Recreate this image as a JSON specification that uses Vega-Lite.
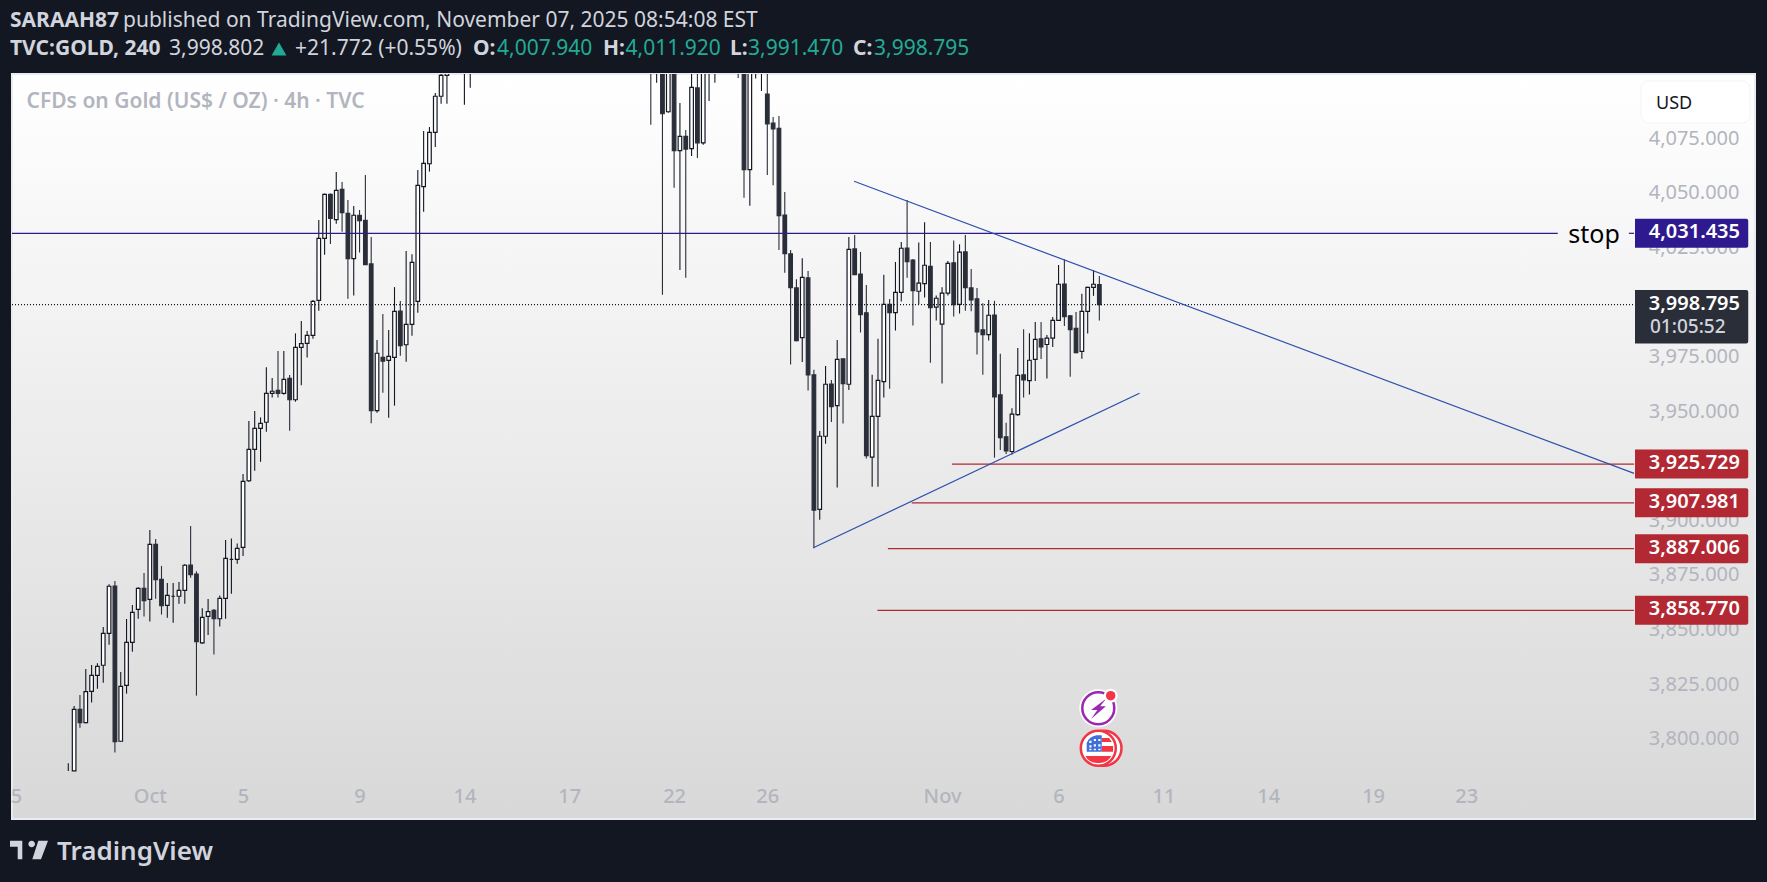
{
  "$schema": "https://vega.github.io/schema/vega-lite/v6.json",
  "width": 1743,
  "height": 745,
  "autosize": {"type": "none"},
  "padding": {"left": 12, "top": 74, "right": 12, "bottom": 63},
  "background": "#131722",
  "view": {
    "stroke": "#e9ebf2",
    "strokeWidth": 2,
    "fill": {
      "x1": 0, "y1": 0, "x2": 0, "y2": 1,
      "gradient": "linear",
      "stops": [{"offset": 0, "color": "#ffffff"}, {"offset": 1, "color": "#d8d8d8"}]
    }
  },
  "config": {
    "axis": {"title": null, "grid": false, "domain": false, "ticks": false},
    "text": {"font": "Noto Sans"}
  },
  "datasets": {
    "one": [{}],
    "bars": [
      {"bar":0,"open":null,"high":3788.7,"low":3785.2,"close":null},
      {"bar":1,"open":3785.2,"high":3814.9,"low":3785.2,"close":3813.4},
      {"bar":2,"open":3813.4,"high":3820.0,"low":3805.0,"close":3807.3},
      {"bar":3,"open":3807.3,"high":3831.9,"low":3807.0,"close":3821.5},
      {"bar":4,"open":3821.6,"high":3833.7,"low":3816.5,"close":3829.0},
      {"bar":5,"open":3829.0,"high":3834.5,"low":3822.9,"close":3833.1},
      {"bar":6,"open":3833.6,"high":3851.1,"low":3825.6,"close":3848.2},
      {"bar":7,"open":3848.2,"high":3870.7,"low":3843.0,"close":3869.8},
      {"bar":8,"open":3869.9,"high":3872.2,"low":3793.6,"close":3798.6},
      {"bar":9,"open":3798.8,"high":3830.5,"low":3798.6,"close":3823.9},
      {"bar":10,"open":3824.4,"high":3854.8,"low":3820.6,"close":3844.1},
      {"bar":11,"open":3844.1,"high":3861.2,"low":3839.8,"close":3857.8},
      {"bar":12,"open":3859.2,"high":3869.3,"low":3854.9,"close":3868.8},
      {"bar":13,"open":3868.8,"high":3875.9,"low":3855.9,"close":3863.2},
      {"bar":14,"open":3863.8,"high":3895.6,"low":3853.6,"close":3889.0},
      {"bar":15,"open":3889.0,"high":3891.4,"low":3864.1,"close":3872.8},
      {"bar":16,"open":3872.9,"high":3879.1,"low":3856.8,"close":3860.9},
      {"bar":17,"open":3861.0,"high":3871.3,"low":3855.4,"close":3865.6},
      {"bar":18,"open":3865.2,"high":3871.3,"low":3853.1,"close":3865.2},
      {"bar":19,"open":3865.2,"high":3871.7,"low":3861.8,"close":3867.9},
      {"bar":20,"open":3867.9,"high":3880.0,"low":3861.8,"close":3879.4},
      {"bar":21,"open":3879.5,"high":3897.4,"low":3873.7,"close":3875.1},
      {"bar":22,"open":3875.4,"high":3876.6,"low":3819.7,"close":3844.4},
      {"bar":23,"open":3843.9,"high":3859.7,"low":3843.5,"close":3855.5},
      {"bar":24,"open":3856.0,"high":3863.9,"low":3847.5,"close":3858.2},
      {"bar":25,"open":3858.8,"high":3859.4,"low":3838.5,"close":3854.9},
      {"bar":26,"open":3854.9,"high":3865.6,"low":3851.3,"close":3864.2},
      {"bar":27,"open":3864.2,"high":3891.0,"low":3854.9,"close":3882.6},
      {"bar":28,"open":3882.1,"high":3891.7,"low":3866.4,"close":3882.1},
      {"bar":29,"open":3882.1,"high":3889.4,"low":3880.1,"close":3887.1},
      {"bar":30,"open":3887.6,"high":3921.2,"low":3883.6,"close":3917.8},
      {"bar":31,"open":3918.1,"high":3945.5,"low":3917.5,"close":3932.5},
      {"bar":32,"open":3932.5,"high":3950.0,"low":3922.7,"close":3942.1},
      {"bar":33,"open":3942.1,"high":3947.1,"low":3926.8,"close":3944.4},
      {"bar":34,"open":3944.9,"high":3970.1,"low":3940.6,"close":3958.1},
      {"bar":35,"open":3958.1,"high":3965.2,"low":3956.2,"close":3959.1},
      {"bar":36,"open":3959.5,"high":3977.5,"low":3956.2,"close":3958.1},
      {"bar":37,"open":3958.1,"high":3977.5,"low":3957.5,"close":3964.5},
      {"bar":38,"open":3965.0,"high":3966.5,"low":3941.0,"close":3955.2},
      {"bar":39,"open":3955.2,"high":3985.6,"low":3954.3,"close":3979.2},
      {"bar":40,"open":3979.2,"high":3991.3,"low":3961.9,"close":3980.9},
      {"bar":41,"open":3981.0,"high":3986.7,"low":3974.5,"close":3984.7},
      {"bar":42,"open":3984.7,"high":4000.9,"low":3983.2,"close":4000.3},
      {"bar":43,"open":4000.7,"high":4037.5,"low":3996.0,"close":4029.1},
      {"bar":44,"open":4029.1,"high":4049.7,"low":4021.6,"close":4049.3},
      {"bar":45,"open":4049.3,"high":4049.7,"low":4026.5,"close":4038.3},
      {"bar":46,"open":4037.7,"high":4059.5,"low":4035.8,"close":4051.1},
      {"bar":47,"open":4051.6,"high":4054.9,"low":4032.2,"close":4040.9},
      {"bar":48,"open":4040.6,"high":4046.7,"low":4001.5,"close":4019.8},
      {"bar":49,"open":4019.8,"high":4043.9,"low":4002.9,"close":4039.7},
      {"bar":50,"open":4039.7,"high":4042.1,"low":4022.6,"close":4037.2},
      {"bar":51,"open":4037.4,"high":4058.1,"low":4017.0,"close":4017.1},
      {"bar":52,"open":4017.4,"high":4029.7,"low":3944.4,"close":3950.2},
      {"bar":53,"open":3950.2,"high":3982.6,"low":3949.3,"close":3976.5},
      {"bar":54,"open":3974.6,"high":3994.5,"low":3958.4,"close":3972.9},
      {"bar":55,"open":3973.2,"high":3987.1,"low":3947.0,"close":3975.1},
      {"bar":56,"open":3974.6,"high":4006.8,"low":3952.5,"close":3995.7},
      {"bar":57,"open":3995.8,"high":4000.4,"low":3975.4,"close":3980.0},
      {"bar":58,"open":3980.4,"high":4023.3,"low":3972.6,"close":3989.7},
      {"bar":59,"open":3989.7,"high":4021.8,"low":3984.5,"close":4018.1},
      {"bar":60,"open":4000.3,"high":4060.4,"low":3995.1,"close":4053.4},
      {"bar":61,"open":4052.8,"high":4078.3,"low":4041.3,"close":4063.5},
      {"bar":62,"open":4063.3,"high":4080.1,"low":4059.7,"close":4077.7},
      {"bar":63,"open":4077.7,"high":4095.7,"low":4071.0,"close":4094.2},
      {"bar":64,"open":4094.2,"high":4106.0,"low":4090.8,"close":4103.8},
      {"bar":65,"open":4103.8,"high":4118.0,"low":4090.8,"close":4112.0},
      {"bar":68,"open":4115.0,"high":4130.0,"low":4090.3,"close":4125.0},
      {"bar":69,"open":4112.0,"high":4125.0,"low":4098.1,"close":4118.0},
      {"bar":100,"open":4125.0,"high":4130.0,"low":4081.2,"close":4112.0},
      {"bar":101,"open":4112.0,"high":4130.0,"low":4100.4,"close":4125.0},
      {"bar":102,"open":4128.0,"high":4135.0,"low":4003.3,"close":4086.2},
      {"bar":103,"open":4087.1,"high":4135.0,"low":4086.7,"close":4130.0},
      {"bar":104,"open":4125.0,"high":4130.0,"low":4052.3,"close":4069.3},
      {"bar":105,"open":4069.3,"high":4091.1,"low":4014.6,"close":4075.8},
      {"bar":106,"open":4075.8,"high":4078.7,"low":4011.1,"close":4070.0},
      {"bar":107,"open":4070.2,"high":4108.0,"low":4066.8,"close":4098.3},
      {"bar":108,"open":4098.0,"high":4106.0,"low":4065.9,"close":4072.9},
      {"bar":109,"open":4072.9,"high":4112.0,"low":4072.0,"close":4108.0},
      {"bar":110,"open":4108.0,"high":4120.0,"low":4092.0,"close":4115.0},
      {"bar":111,"open":4112.0,"high":4122.0,"low":4100.4,"close":4118.0},
      {"bar":115,"open":4118.0,"high":4122.0,"low":4102.6,"close":4110.0},
      {"bar":116,"open":4115.0,"high":4125.0,"low":4047.7,"close":4060.6},
      {"bar":117,"open":4060.6,"high":4120.0,"low":4044.1,"close":4112.0},
      {"bar":118,"open":4108.0,"high":4122.0,"low":4102.3,"close":4118.0},
      {"bar":119,"open":4110.0,"high":4120.0,"low":4096.6,"close":4116.0},
      {"bar":120,"open":4095.2,"high":4108.0,"low":4058.1,"close":4081.6},
      {"bar":121,"open":4081.9,"high":4084.7,"low":4053.5,"close":4079.2},
      {"bar":122,"open":4079.5,"high":4085.2,"low":4023.8,"close":4039.5},
      {"bar":123,"open":4039.8,"high":4050.3,"low":4013.4,"close":4022.1},
      {"bar":124,"open":4022.0,"high":4023.8,"low":3971.3,"close":4006.6},
      {"bar":125,"open":4006.4,"high":4010.4,"low":3982.0,"close":3982.3},
      {"bar":126,"open":3983.7,"high":4020.0,"low":3972.5,"close":4011.3},
      {"bar":127,"open":4011.0,"high":4014.2,"low":3959.4,"close":3966.6},
      {"bar":128,"open":3966.6,"high":3968.9,"low":3887.2,"close":3904.7},
      {"bar":129,"open":3905.0,"high":3940.9,"low":3900.2,"close":3938.5},
      {"bar":130,"open":3938.5,"high":3970.7,"low":3935.0,"close":3962.3},
      {"bar":131,"open":3962.4,"high":3964.3,"low":3945.0,"close":3952.1},
      {"bar":132,"open":3952.5,"high":3982.6,"low":3915.0,"close":3973.7},
      {"bar":133,"open":3973.9,"high":3974.0,"low":3944.3,"close":3962.6},
      {"bar":134,"open":3962.3,"high":4029.8,"low":3959.7,"close":4024.1},
      {"bar":135,"open":4024.3,"high":4030.7,"low":4012.5,"close":4012.5},
      {"bar":136,"open":4012.8,"high":4022.9,"low":3986.0,"close":3994.2},
      {"bar":137,"open":3995.0,"high":4007.8,"low":3928.3,"close":3929.6},
      {"bar":138,"open":3928.9,"high":3966.6,"low":3915.4,"close":3947.6},
      {"bar":139,"open":3947.6,"high":3983.1,"low":3915.4,"close":3964.1},
      {"bar":140,"open":3963.5,"high":4012.4,"low":3956.2,"close":3998.9},
      {"bar":141,"open":3998.9,"high":4001.4,"low":3960.2,"close":3995.1},
      {"bar":142,"open":3995.1,"high":4018.3,"low":3986.9,"close":4004.4},
      {"bar":143,"open":4004.4,"high":4027.5,"low":4000.2,"close":4024.6},
      {"bar":144,"open":4024.7,"high":4046.7,"low":4011.1,"close":4018.5},
      {"bar":145,"open":4019.2,"high":4019.7,"low":3989.2,"close":4005.2},
      {"bar":146,"open":4004.9,"high":4027.2,"low":3998.9,"close":4008.6},
      {"bar":147,"open":4008.4,"high":4036.5,"low":4002.0,"close":4016.8},
      {"bar":148,"open":4016.3,"high":4027.5,"low":3972.2,"close":3997.4},
      {"bar":149,"open":3997.6,"high":4002.9,"low":3991.5,"close":4001.7},
      {"bar":150,"open":3989.8,"high":4006.7,"low":3962.6,"close":4004.0},
      {"bar":151,"open":4004.0,"high":4018.8,"low":4003.0,"close":4017.7},
      {"bar":152,"open":4017.9,"high":4028.2,"low":3993.3,"close":3998.8},
      {"bar":153,"open":3998.9,"high":4026.4,"low":3994.7,"close":4022.8},
      {"bar":154,"open":4022.9,"high":4030.7,"low":3996.0,"close":4006.6},
      {"bar":155,"open":4006.4,"high":4015.1,"low":3995.7,"close":4000.9},
      {"bar":156,"open":4001.4,"high":4006.4,"low":3975.9,"close":3986.3},
      {"bar":157,"open":3987.2,"high":3999.4,"low":3966.7,"close":3985.0},
      {"bar":158,"open":3985.0,"high":4000.9,"low":3982.3,"close":3993.9},
      {"bar":159,"open":3994.0,"high":4000.5,"low":3928.7,"close":3956.5},
      {"bar":160,"open":3957.4,"high":3976.3,"low":3932.2,"close":3937.9},
      {"bar":161,"open":3938.2,"high":3944.7,"low":3930.4,"close":3931.8},
      {"bar":162,"open":3931.5,"high":3951.3,"low":3930.1,"close":3948.6},
      {"bar":163,"open":3948.4,"high":3978.9,"low":3947.9,"close":3966.4},
      {"bar":164,"open":3966.6,"high":3987.5,"low":3956.2,"close":3964.3},
      {"bar":165,"open":3964.0,"high":3985.7,"low":3957.6,"close":3973.3},
      {"bar":166,"open":3973.7,"high":3990.8,"low":3963.8,"close":3982.9},
      {"bar":167,"open":3983.1,"high":3990.8,"low":3973.9,"close":3979.4},
      {"bar":168,"open":3980.5,"high":3984.9,"low":3964.9,"close":3983.4},
      {"bar":169,"open":3983.4,"high":3993.1,"low":3979.4,"close":3991.6},
      {"bar":170,"open":3991.6,"high":4016.9,"low":3991.4,"close":4008.1},
      {"bar":171,"open":4008.2,"high":4019.5,"low":3989.0,"close":3993.3},
      {"bar":172,"open":3993.6,"high":3994.0,"low":3965.7,"close":3987.3},
      {"bar":173,"open":3987.9,"high":3995.4,"low":3976.5,"close":3976.8},
      {"bar":174,"open":3977.4,"high":4003.7,"low":3974.0,"close":3995.7},
      {"bar":175,"open":3995.7,"high":4007.0,"low":3985.5,"close":4006.7},
      {"bar":176,"open":4006.7,"high":4014.5,"low":4002.8,"close":4008.1},
      {"bar":177,"open":4007.94,"high":4011.92,"low":3991.47,"close":3998.795}
    ],
    "levels": [
      {"price":4031.435,"kind":"stop","start":-9.665,"end":255.7},
      {"price":4031.435,"kind":"stop","start":267.9,"end":268.8},
      {"price":3925.729,"kind":"target","start":151.7,"end":268.8},
      {"price":3907.981,"kind":"target","start":144.8,"end":268.8},
      {"price":3887.006,"kind":"target","start":140.7,"end":268.8},
      {"price":3858.77,"kind":"target","start":138.9,"end":268.8}
    ],
    "tags": [
      {"price":4031.435,"kind":"stop"},
      {"price":3925.729,"kind":"target"},
      {"price":3907.981,"kind":"target"},
      {"price":3887.006,"kind":"target"},
      {"price":3858.77,"kind":"target"}
    ],
    "trend": [
      {"bar0":134.9,"price0":4055.3,"bar1":268.8,"price1":3921.5},
      {"bar0":127.9,"price0":3887.4,"bar1":183.9,"price1":3958.2}
    ]
  },
  "layer": [
    {
      "data": {"name": "bars"},
      "mark": {"type": "rule", "clip": true, "strokeWidth": 1.1},
      "encoding": {
        "x": {
          "field": "bar", "type": "quantitative",
          "scale": {"domain": [-9.665, 289.56], "nice": false, "zero": false, "padding": 0},
          "axis": {
            "values": [-9, 14, 30, 50, 68, 86, 104, 120, 150, 170, 188, 206, 224, 240],
            "labelExpr": "{'-9':'5','14':'Oct','30':'5','50':'9','68':'14','86':'17','104':'22','120':'26','150':'Nov','170':'6','188':'11','206':'14','224':'19','240':'23'}[datum.value]",
            "labelFont": "Noto Sans", "labelFontSize": 20, "labelFontWeight": 500, "labelColor": "#b2b5be",
            "labelPadding": -23, "labelBaseline": "middle", "labelAngle": 0,
            "labelOverlap": false, "labelBound": false, "labelFlush": false
          }
        },
        "y": {
          "field": "low", "type": "quantitative",
          "scale": {"domain": [3763.19, 4104.4], "nice": false, "zero": false},
          "axis": {
            "orient": "right",
            "values": [3800, 3825, 3850, 3875, 3900, 3925, 3950, 3975, 4000, 4025, 4050, 4075],
            "format": ",.3f",
            "labelFont": "Noto Sans", "labelFontSize": 20, "labelColor": "#b2b5be",
            "labelPadding": -16, "labelAlign": "right", "labelOverlap": false, "labelBound": false
          }
        },
        "y2": {"field": "high"},
        "color": {"condition": {"test": "datum.close >= datum.open", "value": "#131722"}, "value": "#2a2e39"}
      }
    },
    {
      "data": {"name": "bars"},
      "mark": {"type": "bar", "clip": true, "width": 3.6, "align": "center", "strokeWidth": 1.2},
      "encoding": {
        "x": {"field": "bar", "type": "quantitative", "scale": {"padding": 0}},
        "y": {"field": "open", "type": "quantitative"},
        "y2": {"field": "close"},
        "fill": {"condition": {"test": "datum.close >= datum.open", "value": "#ffffff"}, "value": "#2a2e39"},
        "stroke": {"condition": {"test": "datum.close >= datum.open", "value": "#131722"}, "value": "#2a2e39"}
      }
    },
    {
      "data": {"name": "one"},
      "mark": {"type": "rule", "color": "#131722", "strokeWidth": 1.2, "strokeDash": [1, 2]},
      "encoding": {
        "x": {"datum": -9.665, "type": "quantitative"},
        "x2": {"datum": 268.8},
        "y": {"datum": 3998.795, "type": "quantitative"}
      }
    },
    {
      "data": {"name": "levels"},
      "mark": {"type": "rule", "strokeWidth": 1.2},
      "encoding": {
        "x": {"field": "start", "type": "quantitative"},
        "x2": {"field": "end"},
        "y": {"field": "price", "type": "quantitative"},
        "color": {"field": "kind", "type": "nominal", "scale": {"domain": ["stop", "target"], "range": ["#2e1a8e", "#b22833"]}, "legend": null}
      }
    },
    {
      "data": {"name": "trend"},
      "mark": {"type": "rule", "strokeWidth": 1.2, "color": "#2c50ab"},
      "encoding": {
        "x": {"field": "bar0", "type": "quantitative"},
        "x2": {"field": "bar1"},
        "y": {"field": "price0", "type": "quantitative"},
        "y2": {"field": "price1"}
      }
    },
    {
      "data": {"name": "tags"},
      "mark": {"type": "rect", "height": 29, "cornerRadiusTopRight": 2, "cornerRadiusBottomRight": 2},
      "encoding": {
        "x": {"datum": 268.96, "type": "quantitative"},
        "x2": {"datum": 288.4},
        "y": {"field": "price", "type": "quantitative"},
        "color": {"field": "kind", "type": "nominal", "legend": null}
      }
    },
    {
      "data": {"name": "tags"},
      "mark": {"type": "text", "x": 1728, "align": "right", "baseline": "middle", "fontSize": 20, "fontWeight": 600, "color": "#ffffff", "dy": -1},
      "encoding": {
        "y": {"field": "price", "type": "quantitative"},
        "text": {"field": "price", "type": "quantitative", "format": ",.3f"}
      }
    },
    {
      "data": {"name": "one"},
      "mark": {"type": "rect", "color": "#2a2e39", "cornerRadiusTopRight": 2, "cornerRadiusBottomRight": 2},
      "encoding": {
        "x": {"datum": 268.96, "type": "quantitative"},
        "x2": {"datum": 288.4},
        "y": {"datum": 4005.5, "type": "quantitative"},
        "y2": {"datum": 3981.0}
      }
    },
    {"data": {"name": "one"}, "encoding": {}, "mark": {"type": "text", "text": "3,998.795", "x": 1728, "y": 229.5, "align": "right", "baseline": "middle", "fontSize": 20, "fontWeight": 600, "color": "#ffffff"}},
    {"data": {"name": "one"}, "encoding": {}, "mark": {"type": "text", "text": "01:05:52", "x": 1638, "y": 253, "align": "left", "baseline": "middle", "fontSize": 19, "fontWeight": 500, "color": "#d1d4dc"}},
    {"data": {"name": "one"}, "encoding": {}, "mark": {"type": "text", "text": "stop", "x": 1582, "y": 160.5, "align": "center", "baseline": "middle", "fontSize": 25, "color": "#000000"}},
    {"data": {"name": "one"}, "encoding": {}, "mark": {"type": "rect", "x": 1629, "x2": 1738, "y": 7, "y2": 49, "fill": "#ffffff", "stroke": "#f0f3fa", "cornerRadius": 8}},
    {"data": {"name": "one"}, "encoding": {}, "mark": {"type": "text", "text": "USD", "x": 1644, "y": 30, "align": "left", "baseline": "middle", "fontSize": 18, "color": "#131722"}},
    {"data": {"name": "one"}, "encoding": {}, "mark": {"type": "rule", "x": 1622, "x2": 1743, "y": 744, "y2": 744, "color": "#131722", "strokeWidth": 1}},
    {"data": {"name": "one"}, "encoding": {}, "mark": {"type": "text", "text": "CFDs on Gold (US$ / OZ) · 4h · TVC", "x": 14.5, "y": 28, "align": "left", "baseline": "middle", "fontSize": 21, "fontWeight": 600, "color": "#b2b5be"}},
    {"data": {"name": "one"}, "encoding": {}, "mark": {"type": "text", "text": "SARAAH87", "x": -2, "y": -53.5, "align": "left", "baseline": "middle", "fontSize": 21, "fontWeight": 700, "color": "#d1d4dc"}},
    {"data": {"name": "one"}, "encoding": {}, "mark": {"type": "text", "text": "published on TradingView.com, November 07, 2025 08:54:08 EST", "x": 111, "y": -53.5, "align": "left", "baseline": "middle", "fontSize": 21, "color": "#d1d4dc"}},
    {"data": {"name": "one"}, "encoding": {}, "mark": {"type": "text", "text": "TVC:GOLD, 240", "x": -2, "y": -25, "align": "left", "baseline": "middle", "fontSize": 21, "fontWeight": 700, "color": "#d1d4dc"}},
    {"data": {"name": "one"}, "encoding": {}, "mark": {"type": "text", "text": "3,998.802", "x": 157, "y": -25, "align": "left", "baseline": "middle", "fontSize": 21, "color": "#d1d4dc"}},
    {"data": {"name": "one"}, "encoding": {}, "mark": {"type": "point", "shape": "triangle-up", "x": 267, "y": -25, "size": 220, "filled": true, "opacity": 1, "color": "#22ab94"}},
    {"data": {"name": "one"}, "encoding": {}, "mark": {"type": "text", "text": "+21.772 (+0.55%)", "x": 283, "y": -25, "align": "left", "baseline": "middle", "fontSize": 21, "color": "#d1d4dc"}},
    {"data": {"name": "one"}, "encoding": {}, "mark": {"type": "text", "text": "O:", "x": 461, "y": -25, "align": "left", "baseline": "middle", "fontSize": 21, "fontWeight": 700, "color": "#d1d4dc"}},
    {"data": {"name": "one"}, "encoding": {}, "mark": {"type": "text", "text": "4,007.940", "x": 485, "y": -25, "align": "left", "baseline": "middle", "fontSize": 21, "color": "#22ab94"}},
    {"data": {"name": "one"}, "encoding": {}, "mark": {"type": "text", "text": "H:", "x": 591, "y": -25, "align": "left", "baseline": "middle", "fontSize": 21, "fontWeight": 700, "color": "#d1d4dc"}},
    {"data": {"name": "one"}, "encoding": {}, "mark": {"type": "text", "text": "4,011.920", "x": 613.5, "y": -25, "align": "left", "baseline": "middle", "fontSize": 21, "color": "#22ab94"}},
    {"data": {"name": "one"}, "encoding": {}, "mark": {"type": "text", "text": "L:", "x": 718, "y": -25, "align": "left", "baseline": "middle", "fontSize": 21, "fontWeight": 700, "color": "#d1d4dc"}},
    {"data": {"name": "one"}, "encoding": {}, "mark": {"type": "text", "text": "3,991.470", "x": 736, "y": -25, "align": "left", "baseline": "middle", "fontSize": 21, "color": "#22ab94"}},
    {"data": {"name": "one"}, "encoding": {}, "mark": {"type": "text", "text": "C:", "x": 841, "y": -25, "align": "left", "baseline": "middle", "fontSize": 21, "fontWeight": 700, "color": "#d1d4dc"}},
    {"data": {"name": "one"}, "encoding": {}, "mark": {"type": "text", "text": "3,998.795", "x": 862, "y": -25, "align": "left", "baseline": "middle", "fontSize": 21, "color": "#22ab94"}},
    {"data": {"name": "one"}, "encoding": {}, "mark": {"type": "point", "shape": "M-1 -.49H-.353V.49H-.595V-.174H-1ZM-.032 -.316A.174 .174 0 1 0 .316 -.316A.174 .174 0 1 0 -.032 -.316ZM.49 -.49H1L.632 .49H.174Z", "x": 17, "y": 776, "size": 1444, "filled": true, "opacity": 1, "color": "#d1d4dc"}},
    {"data": {"name": "one"}, "encoding": {}, "mark": {"type": "text", "text": "TradingView", "x": 45, "y": 778, "align": "left", "baseline": "middle", "fontSize": 26, "fontWeight": 600, "color": "#d1d4dc"}},
    {"data": {"name": "one"}, "encoding": {}, "mark": {"type": "point", "shape": "circle", "x": 1086.3, "y": 634.3, "size": 1444, "filled": true, "opacity": 1, "color": "#ffffff"}},
    {"data": {"name": "one"}, "encoding": {}, "mark": {"type": "point", "shape": "circle", "x": 1086.3, "y": 634.3, "size": 1024, "filled": false, "opacity": 1, "color": "#9c27b0", "strokeWidth": 2.5}},
    {"data": {"name": "one"}, "encoding": {}, "mark": {"type": "point", "shape": "M.45 -.55L-.4 .1H-.05L-.4 .6L.42 -.12H.1Z", "x": 1086.3, "y": 634.3, "size": 1296, "filled": true, "opacity": 1, "color": "#9c27b0"}},
    {"data": {"name": "one"}, "encoding": {}, "mark": {"type": "point", "shape": "circle", "x": 1098.7, "y": 621.7, "size": 196, "filled": true, "opacity": 1, "color": "#ffffff"}},
    {"data": {"name": "one"}, "encoding": {}, "mark": {"type": "point", "shape": "circle", "x": 1098.7, "y": 621.7, "size": 90, "filled": true, "opacity": 1, "color": "#f23645"}},
    {"data": {"name": "one"}, "encoding": {}, "mark": {"type": "point", "shape": "circle", "x": 1092, "y": 674.3, "size": 1225, "filled": true, "opacity": 1, "fill": "#ffffff", "stroke": "#f23645", "strokeWidth": 2.5}},
    {"data": {"name": "one"}, "encoding": {}, "mark": {"type": "point", "shape": "circle", "x": 1086.3, "y": 674.3, "size": 1225, "filled": true, "opacity": 1, "fill": "#ffffff", "stroke": "#f23645", "strokeWidth": 2.5}},
    {"data": {"name": "one"}, "encoding": {}, "mark": {"type": "point", "shape": "M.19 -.57H.6L.75 -.35H.19ZM.19 -.13H.82V.19H.19ZM-.72 .43H.72Q.5 .85 0 .82Q-.5 .85 -.72 .43Z", "x": 1086.3, "y": 674.3, "size": 1296, "filled": true, "opacity": 1, "color": "#f23645"}},
    {"data": {"name": "one"}, "encoding": {}, "mark": {"type": "point", "shape": "M-.644 .19V-.3Q-.5 -.644 -.1 -.72H.19V.19Z", "x": 1086.3, "y": 674.3, "size": 1296, "filled": true, "opacity": 1, "color": "#3f6fd8"}},
    {"data": {"name": "one"}, "encoding": {}, "mark": {"type": "point", "shape": "M-.5 -.42h.12v.12h-.12ZM-.25 -.52h.12v.12h-.12ZM0 -.52h.12v.12h-.12ZM-.5 -.17h.12v.12h-.12ZM-.25 -.22h.12v.12h-.12ZM0 -.22h.12v.12h-.12ZM-.5 .03h.12v.08h-.12ZM-.25 .03h.12v.08h-.12ZM0 .03h.12v.08h-.12Z", "x": 1086.3, "y": 674.3, "size": 1296, "filled": true, "opacity": 1, "color": "#ffffff"}}
  ]
}
